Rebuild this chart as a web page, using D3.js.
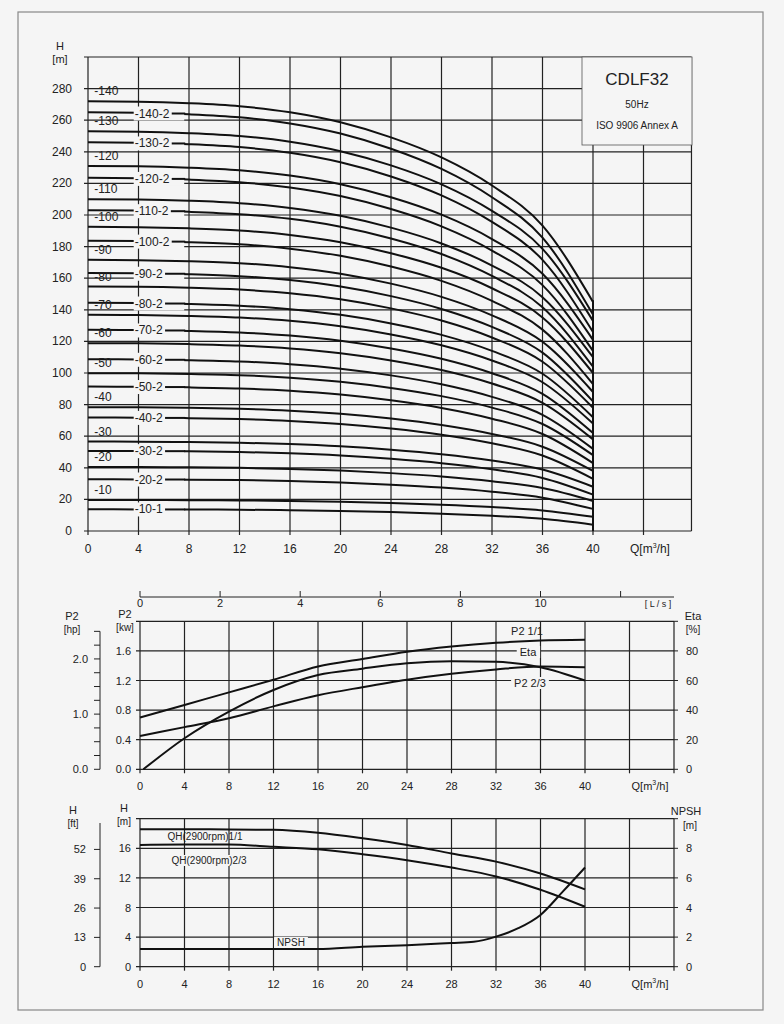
<!DOCTYPE html>
<html><head><meta charset="utf-8">
<script src="https://cdn.jsdelivr.net/npm/d3@7"></script>
<style>
body{margin:0;background:#f5f5f5;}
svg{font-family:"Liberation Sans",Arial,sans-serif;}
</style></head><body>
<svg id="c" width="784" height="1024"></svg>
<script>
// ---- data ----
var qPoints = [0, 4, 8, 12, 16, 20, 24, 28, 32, 36, 40];

// top chart: pump stage curves (name, head at Q=0, head at Q=40)
var stageNames = ['-140','-140-2','-130','-130-2','-120','-120-2','-110','-110-2','-100','-100-2',
                  '-90','-90-2','-80','-80-2','-70','-70-2','-60','-60-2','-50','-50-2',
                  '-40','-40-2','-30','-30-2','-20','-20-2','-10','-10-1'];
var shutoffHeads = [272,265,253,246,231,223.5,210,203,192.5,183.7,171.6,163.3,154.7,144.4,136.8,127.3,
                    118.9,108.7,99.9,91.4,78.4,71.8,56.6,50.7,40.5,32.7,19.6,13.7];
var endHeads = [145,137,133,126,121,114,110,104,100,93,88,82,78,72,68,62,58,52,48,43,38,33,28,23,19,14,9,4];
// relative curve shape (1 at shut-off, 0 at Q=40)
var stageShape = [1, 0.998, 0.99, 0.975, 0.945, 0.895, 0.82, 0.72, 0.58, 0.38, 0];

// middle chart
var p2Full = [0.70, 0.87, 1.04, 1.21, 1.39, 1.49, 1.59, 1.66, 1.71, 1.74, 1.75];
var p2TwoThirds = [0.45, 0.57, 0.69, 0.85, 1.00, 1.11, 1.21, 1.29, 1.35, 1.39, 1.38];
var etaQ = [0.3, 4, 8, 12, 16, 20, 24, 28, 32, 36, 40];
var etaValues = [0, 21, 39, 53.6, 63.7, 68, 71.6, 73, 72.6, 69, 60];

// bottom chart
var qhFull = [18.57, 18.57, 18.55, 18.5, 18.1, 17.35, 16.45, 15.3, 14.2, 12.6, 10.45];
var qhTwoThirds = [16.45, 16.5, 16.5, 16.2, 15.86, 15.2, 14.4, 13.4, 12.2, 10.4, 8.1];
var npshQ = [0, 4, 8, 12, 16, 20, 24, 28, 30, 32, 34, 36, 38, 40];
var npshValues = [1.2, 1.2, 1.2, 1.2, 1.2, 1.35, 1.45, 1.6, 1.68, 2.03, 2.6, 3.5, 5.07, 6.7];

var svg = d3.select('#c');
var line = d3.line().curve(d3.curveMonotoneX);

svg.append('rect').attr('x',18).attr('y',12).attr('width',745).attr('height',998)
  .attr('fill','none').attr('stroke','#888').attr('stroke-width',1.2);

function txt(x, y, s, size, anchor) {
  return svg.append('text').attr('x',x).attr('y',y).attr('font-size',size||11)
    .attr('text-anchor',anchor||'middle').attr('fill','#222').text(s);
}
function grid(x, y, xs, ys, xl, xr, yt, yb) {
  var g = svg.append('g').attr('stroke','#222').attr('stroke-width',1.2);
  xs.forEach(function(v){ g.append('line').attr('x1',x(v)).attr('x2',x(v)).attr('y1',y(yt)).attr('y2',y(yb)+4); });
  ys.forEach(function(v){ g.append('line').attr('x1',x(xl)-4).attr('x2',x(xr)).attr('y1',y(v)).attr('y2',y(v)); });
  return g;
}

// ---------- top chart ----------
var x1 = d3.scaleLinear().domain([0,40]).range([88,593]);
var y1 = d3.scaleLinear().domain([0,300]).range([531,57]);
grid(x1, y1, d3.range(0,48,4), d3.range(0,320,20), 0, 47.8, 300, 0);
svg.append('line').attr('x1',x1(47.8)).attr('x2',x1(47.8)).attr('y1',y1(300)).attr('y2',y1(0))
  .attr('stroke','#222').attr('stroke-width',1.2);
d3.range(0,44,4).forEach(function(v){ txt(x1(v), 553, v, 12); });
txt(650, 553, '', 12).html('Q[m<tspan font-size="7" dy="-5">3</tspan><tspan dy="5">/h]</tspan>');
d3.range(0,300,20).forEach(function(v){ txt(72, y1(v)+4, v, 12, 'end'); });
txt(60, 50, 'H', 11); txt(60, 63, '[m]', 11);

var curves = svg.append('g').attr('fill','none').attr('stroke','#111').attr('stroke-width',2);
stageNames.forEach(function(n, i){
  var pts = qPoints.map(function(q, k){
    return [x1(q), y1(endHeads[i] + (shutoffHeads[i]-endHeads[i]) * stageShape[k])];
  });
  curves.append('path').attr('d', line(pts));
});
svg.append('line').attr('x1',x1(40)).attr('x2',x1(40)).attr('y1',y1(146)).attr('y2',y1(0))
  .attr('stroke','#111').attr('stroke-width',2);
// labels
stageNames.forEach(function(n, i){
  if (n.split('-').length === 2) {
    txt(x1(0.5), y1(shutoffHeads[i]) - 6, n, 12, 'start');
  } else {
    var h = shutoffHeads[i] - (shutoffHeads[i]-endHeads[i]) * 0.006;
    var t = txt(x1(3.7), y1(h) + 4, n, 12, 'start');
    var b = t.node().getBBox();
    svg.insert('rect', function(){ return t.node(); }).attr('x',b.x-1).attr('y',b.y)
      .attr('width',x1(7.7)-b.x).attr('height',b.height).attr('fill','#f5f5f5');
    svg.append('line').attr('x1',b.x+b.width+2).attr('x2',x1(7.7)).attr('y1',y1(h)).attr('y2',y1(h))
      .attr('stroke','#111').attr('stroke-width',2);
  }
});
// title box
svg.append('rect').attr('x',582).attr('y',57).attr('width',110).attr('height',88)
  .attr('fill','#f5f5f5').attr('stroke','#555').attr('stroke-width',0.8);
txt(637, 85, 'CDLF32', 17); txt(637, 108, '50Hz', 10); txt(637, 129, 'ISO 9906 Annex A', 10);

// ---------- middle chart ----------
var x2 = d3.scaleLinear().domain([0,40]).range([140,585]);
var y2 = d3.scaleLinear().domain([0,2]).range([769.3,621.3]);
var yEta = d3.scaleLinear().domain([0,100]).range([769.3,621.3]);
var yHp = d3.scaleLinear().domain([0,2/0.7457]).range([769.3,621.3]);
grid(x2, y2, d3.range(0,52,4), d3.range(0,2.1,0.4), 0, 48, 2, 0);
svg.append('g').attr('stroke','#222').selectAll('line').data(d3.range(0,2.1,0.4)).join('line')
  .attr('x1',x2(48)).attr('x2',x2(48)+4).attr('y1',function(d){return y2(d);}).attr('y2',function(d){return y2(d);});
d3.range(0,44,4).forEach(function(v){ txt(x2(v), 790, v, 11); });
txt(650, 790, '', 11).html('Q[m<tspan font-size="7" dy="-5">3</tspan><tspan dy="5">/h]</tspan>');
[0,0.4,0.8,1.2,1.6].forEach(function(v){ txt(131, y2(v)+4, v.toFixed(1), 11, 'end'); });
[0,20,40,60,80].forEach(function(v){ txt(686, yEta(v)+4, v, 11, 'start'); });
// hp axis
var hpAx = svg.append('g').attr('stroke','#222');
hpAx.append('line').attr('x1',100).attr('x2',100).attr('y1',yHp(2.5)).attr('y2',yHp(0));
d3.range(0,2.6,0.25).forEach(function(v){ hpAx.append('line').attr('x1',94).attr('x2',100).attr('y1',yHp(v)).attr('y2',yHp(v)); });
[0,1,2].forEach(function(v){ txt(88, yHp(v)+4, v.toFixed(1), 11, 'end'); });
txt(72, 620, 'P2', 11); txt(72, 633, '[hp]', 10);
txt(125, 618, 'P2', 11); txt(125, 631, '[kw]', 10);
txt(693, 620, 'Eta', 11); txt(693, 633, '[%]', 10);
// L/s axis
var xLs = d3.scaleLinear().domain([0,1]).range([x2(0), x2(3.6)]);
var ls = svg.append('g').attr('stroke','#222');
ls.append('line').attr('x1',x2(0)).attr('x2',x2(48)).attr('y1',597).attr('y2',597);
d3.range(0,14,2).forEach(function(v){ ls.append('line').attr('x1',xLs(v)).attr('x2',xLs(v)).attr('y1',591).attr('y2',597); });
d3.range(0,12,2).forEach(function(v){ txt(xLs(v), 607, v, 11); });
txt(658, 607, '[ L / s ]', 9);

var mc = svg.append('g').attr('fill','none').attr('stroke','#111').attr('stroke-width',2);
mc.append('path').attr('d', line(qPoints.map(function(q,k){ return [x2(q), y2(p2Full[k])]; })));
mc.append('path').attr('d', line(qPoints.map(function(q,k){ return [x2(q), y2(p2TwoThirds[k])]; })));
mc.append('path').attr('d', line(etaQ.map(function(q,k){ return [x2(q), yEta(etaValues[k])]; })));
function boxedText(x, y, s, size) {
  var t = txt(x, y, s, size);
  var b = t.node().getBBox();
  svg.insert('rect', function(){ return t.node(); }).attr('x',b.x-3).attr('y',b.y).attr('width',b.width+6)
    .attr('height',b.height).attr('fill','#f5f5f5');
}
txt(527, 635, 'P2 1/1', 11);
boxedText(528, 656, 'Eta', 11);
boxedText(530, 687, 'P2 2/3', 11);

// ---------- bottom chart ----------
var y3 = d3.scaleLinear().domain([0,20]).range([966.7,818.7]);
var yN = d3.scaleLinear().domain([0,10]).range([966.7,818.7]);
var yFt = d3.scaleLinear().domain([0,20/0.3048]).range([966.7,818.7]);
grid(x2, y3, d3.range(0,52,4), d3.range(0,21,4), 0, 48, 20, 0);
svg.append('g').attr('stroke','#222').selectAll('line').data(d3.range(0,21,4)).join('line')
  .attr('x1',x2(48)).attr('x2',x2(48)+4).attr('y1',function(d){return y3(d);}).attr('y2',function(d){return y3(d);});
d3.range(0,44,4).forEach(function(v){ txt(x2(v), 988, v, 11); });
txt(650, 988, '', 11).html('Q[m<tspan font-size="7" dy="-5">3</tspan><tspan dy="5">/h]</tspan>');
[0,4,8,12,16].forEach(function(v){ txt(131, y3(v)+4, v, 11, 'end'); });
[0,2,4,6,8].forEach(function(v){ txt(686, yN(v)+4, v, 11, 'start'); });
var ftAx = svg.append('g').attr('stroke','#222');
ftAx.append('line').attr('x1',100).attr('x2',100).attr('y1',823).attr('y2',yFt(0));
[0,13,26,39,52].forEach(function(v){
  ftAx.append('line').attr('x1',94).attr('x2',100).attr('y1',yFt(v)).attr('y2',yFt(v));
  txt(86, yFt(v)+4, v, 11, 'end');
});
txt(73, 814, 'H', 11); txt(73, 827, '[ft]', 10);
txt(124, 812, 'H', 11); txt(124, 825, '[m]', 10);
txt(686, 815, 'NPSH', 11); txt(690, 829, '[m]', 10);

var bc = svg.append('g').attr('fill','none').attr('stroke','#111').attr('stroke-width',2);
bc.append('path').attr('d', line(qPoints.map(function(q,k){ return [x2(q), y3(qhFull[k])]; })));
bc.append('path').attr('d', line(qPoints.map(function(q,k){ return [x2(q), y3(qhTwoThirds[k])]; })));
bc.append('path').attr('d', line(npshQ.map(function(q,k){ return [x2(q), yN(npshValues[k])]; })));
txt(205, 840, 'QH(2900rpm)1/1', 10);
boxedText(209, 864, 'QH(2900rpm)2/3', 10);
boxedText(291, 946, 'NPSH', 10);
</script></body></html>
